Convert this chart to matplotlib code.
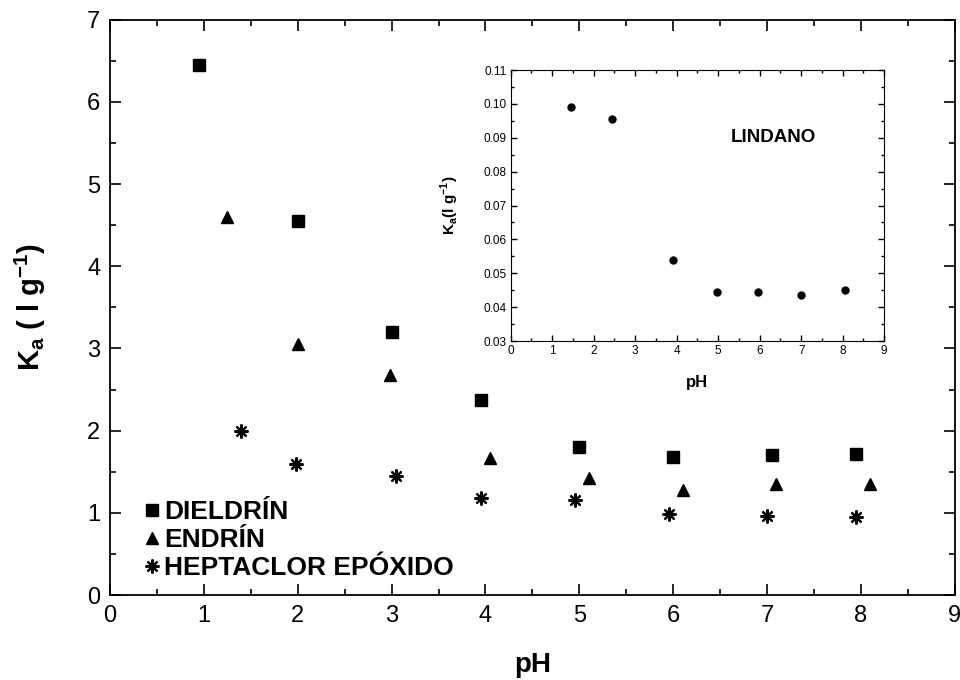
import matplotlib.pyplot as plt
from matplotlib.ticker import MultipleLocator

plt.rcParams['font.family'] = ['Liberation Sans', 'DejaVu Sans']

# datos principales
ph_dieldrin = [0.95, 2.0, 3.0, 3.95, 5.0, 6.0, 7.05, 7.95]
ka_dieldrin = [6.45, 4.55, 3.2, 2.37, 1.8, 1.68, 1.7, 1.72]

ph_endrin = [1.25, 2.0, 2.98, 4.05, 5.1, 6.1, 7.1, 8.1]
ka_endrin = [4.6, 3.05, 2.68, 1.67, 1.42, 1.28, 1.35, 1.35]

ph_heptaclor = [1.4, 1.98, 3.05, 3.95, 4.95, 5.95, 7.0, 7.95]
ka_heptaclor = [2.0, 1.6, 1.45, 1.18, 1.15, 0.98, 0.96, 0.95]

# lindano (inset)
ph_lindano = [1.45, 2.45, 3.9, 4.97, 5.97, 7.0, 8.05]
ka_lindano = [0.099, 0.0955, 0.054, 0.0445, 0.0445, 0.0437, 0.045]

fig = plt.figure(figsize=(9.6, 6.8), dpi=100)
ax = fig.add_axes([0.1146, 0.125, 0.880, 0.846])

ax.plot(ph_dieldrin, ka_dieldrin, 's', color='black', markersize=9, label='DIELDRÍN')
ax.plot(ph_endrin, ka_endrin, '^', color='black', markersize=9, label='ENDRÍN')
ax.plot(ph_heptaclor, ka_heptaclor, marker=(8, 2, 0), linestyle='none', color='black',
        markersize=10, markeredgewidth=1.6, label='HEPTACLOR EPÓXIDO')

ax.set_xlim(0, 9)
ax.set_ylim(0, 7)
ax.xaxis.set_major_locator(MultipleLocator(1))
ax.xaxis.set_minor_locator(MultipleLocator(0.5))
ax.yaxis.set_major_locator(MultipleLocator(1))
ax.yaxis.set_minor_locator(MultipleLocator(0.5))
ax.tick_params(which='both', direction='in', top=True, right=True, width=1.2)
ax.tick_params(which='major', length=8, labelsize=17, pad=7)
ax.tick_params(which='minor', length=4)
for s in ax.spines.values():
    s.set_linewidth(1.3)

ax.set_xlabel('pH', fontsize=20, fontweight='bold', labelpad=18)
ax.set_ylabel(r'K$_\mathregular{a}$ ( l g$^\mathregular{-1}$)', fontsize=21, fontweight='bold', labelpad=28)

leg = ax.legend(loc='lower left', bbox_to_anchor=(0.022, -0.002), frameon=False,
                prop={'weight': 'bold', 'size': 19}, handlelength=0.6,
                handletextpad=0.15, labelspacing=0.15, borderaxespad=0.2)

# inset
axi = fig.add_axes([0.532, 0.4985, 0.389, 0.3985])
axi.plot(ph_lindano, ka_lindano, 'o', color='black', markersize=5)
axi.set_xlim(0, 9)
axi.set_ylim(0.03, 0.11)
axi.xaxis.set_major_locator(MultipleLocator(1))
axi.xaxis.set_minor_locator(MultipleLocator(0.5))
axi.yaxis.set_major_locator(MultipleLocator(0.01))
axi.yaxis.set_minor_locator(MultipleLocator(0.005))
axi.yaxis.set_major_formatter(plt.FormatStrFormatter('%.2f'))
axi.tick_params(which='both', direction='in', top=True, right=True, width=1)
axi.tick_params(which='major', length=4, labelsize=8.5, pad=3)
axi.tick_params(which='minor', length=2)
axi.set_xlabel('pH', fontsize=12, fontweight='bold', labelpad=13)
axi.set_ylabel(r'K$_\mathregular{a}$(l g$^\mathregular{-1}$)', fontsize=11, fontweight='bold', labelpad=16)
axi.text(6.32, 0.0902, 'LINDANO', fontsize=13.5, fontweight='bold', ha='center', va='center')

fig.savefig('out.png', dpi=100)
